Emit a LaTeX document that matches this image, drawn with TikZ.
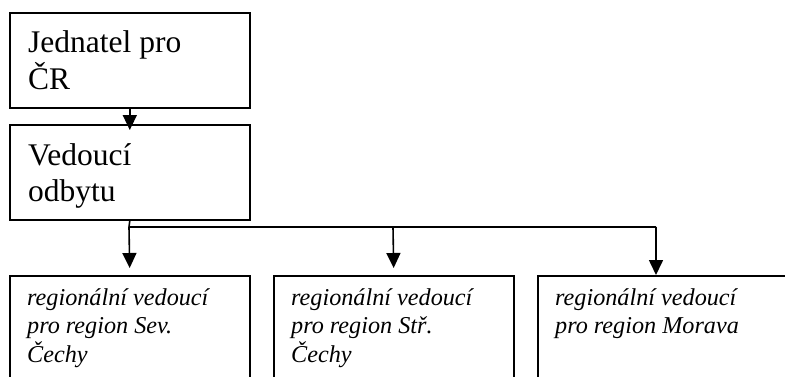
\documentclass[tikz,border=0pt]{standalone}
\usepackage{fontspec}
\setmainfont{Liberation Serif}
\usetikzlibrary{arrows.meta}
\begin{document}
\begin{tikzpicture}[x=1pt,y=-1pt,
  box/.style={draw, line width=1.6pt, rectangle, inner sep=0pt, anchor=north west},
  big/.style={anchor=base west, inner sep=0pt, font=\fontsize{31.5}{36.3}\selectfont},
  small/.style={anchor=base west, inner sep=0pt, font=\fontsize{24.2}{28}\selectfont\itshape},
  arr/.style={line width=1.6pt, -{Triangle[width=14pt,length=15pt]}},
  conn/.style={line width=1.6pt}]
\useasboundingbox (0,0) rectangle (785,376);
\clip (0,0) rectangle (785,376);
% boxes
\node[box, minimum width=240pt, minimum height=95pt] (b1) at (9,12) {};
\node[box, minimum width=240pt, minimum height=95pt] (b2) at (9,124) {};
\node[box, minimum width=240pt, minimum height=130pt] (ra) at (9,275) {};
\node[box, minimum width=240pt, minimum height=130pt] (rb) at (273,275) {};
\node[box, minimum width=270pt, minimum height=130pt] (rc) at (537,275) {};
% texts
\node[big] (t1) at (28,52) {\begin{tabular}[t]{@{}l@{}}Jednatel pro\\ČR\end{tabular}};
\node[big] (t2) at (28,165) {\begin{tabular}[t]{@{}l@{}}Vedoucí\\odbytu\end{tabular}};
\node[small] (ta) at (27,305) {\begin{tabular}[t]{@{}l@{}}regionální vedoucí\\pro region Sev.\\Čechy\end{tabular}};
\node[small] (tb) at (291,305) {\begin{tabular}[t]{@{}l@{}}regionální vedoucí\\pro region Stř.\\Čechy\end{tabular}};
\node[small] (tc) at (555,305) {\begin{tabular}[t]{@{}l@{}}regionální vedoucí\\pro region Morava\end{tabular}};
% connectors
\coordinate (j1) at (129,227);
\coordinate (j2) at (393,227);
\coordinate (j3) at (656,227);
\draw[arr, shorten >=-6pt] (b1.south) -- (b2.north);
\draw[conn] (b2.south) -- (j1) -- (j3);
\draw[arr, shorten >=7pt] (j1) -- (ra.north);
\draw[arr, shorten >=7pt] (j2) -- (rb.north);
\draw[arr] (j3) -- (j3 |- rc.north);
\end{tikzpicture}
\end{document}
